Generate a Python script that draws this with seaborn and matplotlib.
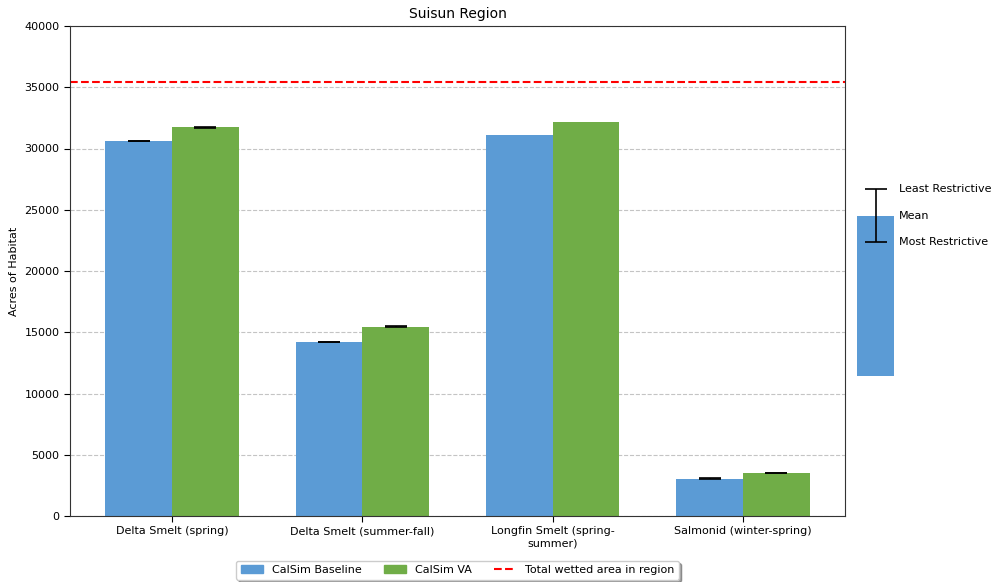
import matplotlib
matplotlib.use("Agg")
import matplotlib.pyplot as plt
import seaborn as sns
import pandas as pd
import numpy as np
from matplotlib.patches import Patch
from matplotlib.lines import Line2D

categories = ["Delta Smelt (spring)", "Delta Smelt (summer-fall)",
              "Longfin Smelt (spring-\nsummer)", "Salmonid (winter-spring)"]
scenarios = ["CalSim Baseline", "CalSim VA"]
baseline_mean = [30620, 14210, 31120, 3040]
va_mean = [31720, 15440, 32170, 3510]
baseline_err = [30, 30, np.nan, 30]
va_err = [30, 30, np.nan, 30]
total_wetted = 35430
colors = ["#5B9BD5", "#70AD47"]

df = pd.DataFrame({
    "category": categories * 2,
    "scenario": [scenarios[0]] * 4 + [scenarios[1]] * 4,
    "acres": baseline_mean + va_mean,
})

sns.set_style("ticks")
plt.rcParams["font.family"] = ["DejaVu Sans"]
plt.rcParams["text.color"] = "black"
plt.rcParams["xtick.color"] = "black"
plt.rcParams["ytick.color"] = "black"
plt.rcParams["axes.labelcolor"] = "black"

fig = plt.figure(figsize=(9.92, 5.82), dpi=100)
ax = fig.add_axes([70 / 992, 66 / 582, 775 / 992, 490 / 582])

sns.barplot(data=df, x="category", y="acres", hue="scenario", palette=colors,
            saturation=1, width=0.7, errorbar=None, legend=False, ax=ax, linewidth=0)

# error bars from bar patches
patches = sorted(ax.patches, key=lambda p: p.get_x())
errs = []
for b, v in zip(baseline_err, va_err):
    errs += [b, v]
for p, e in zip(patches, errs):
    if np.isnan(e):
        continue
    ax.errorbar(p.get_x() + p.get_width() / 2, p.get_height(), yerr=e,
                fmt="none", ecolor="black", capsize=8, elinewidth=1.2, capthick=1.2)

ax.axhline(total_wetted, color="red", linestyle="--", linewidth=1.5)

ax.set_ylim(0, 40000)
ax.set_xlim(-0.535, 3.535)
ax.set_yticks(np.arange(0, 40001, 5000))
ax.yaxis.grid(True, linestyle="--", color="#c4c4c4", linewidth=0.8)
ax.set_axisbelow(True)
ax.tick_params(labelsize=8, length=4)
ax.set_xlabel("")
ax.set_ylabel("Acres of Habitat", fontsize=8)
ax.set_title("Suisun Region", fontsize=10)
for s in ax.spines.values():
    s.set_visible(True)
    s.set_color("#333333")

handles = [Patch(color=colors[0], label=scenarios[0]),
           Patch(color=colors[1], label=scenarios[1]),
           Line2D([0], [0], color="red", linestyle="--", label="Total wetted area in region")]
ax.legend(handles=handles, loc="upper center", bbox_to_anchor=(0.5, -0.08), ncol=3,
          fontsize=8, fancybox=True, shadow=True, frameon=True)

# key inset
kax = fig.add_axes([857 / 992, 202 / 582, 135 / 992, 200 / 582])
kax.set_xlim(0, 135 / 37)
kax.set_ylim(-4 / 160, 196 / 160)
kax.axis("off")
kax.bar([0], [1], width=1, align="edge", color=colors[0], linewidth=0)
kax.errorbar([0.5], [1], yerr=[[0.165], [0.17]], fmt="none", ecolor="black",
             capsize=8, elinewidth=1.2, capthick=1.2)
kax.text(1.135, 1.17, "Least Restrictive", fontsize=8, va="center")
kax.text(1.135, 1.0, "Mean", fontsize=8, va="center")
kax.text(1.135, 0.835, "Most Restrictive", fontsize=8, va="center")

fig.savefig("out.png", dpi=100)
